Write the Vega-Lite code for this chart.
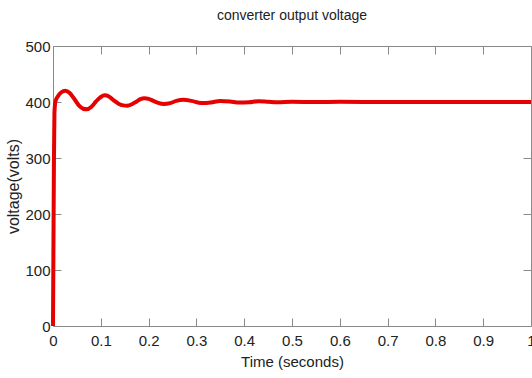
{
  "$schema": "https://vega.github.io/schema/vega-lite/v6.json",
  "width": 478,
  "height": 280,
  "autosize": {"type": "none"},
  "padding": {"left": 53, "top": 46, "right": 1, "bottom": 52},
  "background": "white",
  "config": {
    "view": {"stroke": null},
    "font": "Liberation Sans",
    "axis": {
      "grid": false,
      "domainColor": "#8a8a8a",
      "tickColor": "#8a8a8a",
      "labelColor": "#222222",
      "titleColor": "#222222",
      "labelFont": "Liberation Sans",
      "titleFont": "Liberation Sans",
      "titleFontWeight": "normal",
      "labelFontSize": 15,
      "titleFontSize": 15
    }
  },
  "title": {
    "text": "converter output voltage",
    "font": "Liberation Sans",
    "fontSize": 14,
    "fontWeight": "normal",
    "color": "#222222",
    "offset": 16
  },
  "data": {
    "values": [
      {"t": 0, "v": 0},
      {"t": 0.001, "v": 150},
      {"t": 0.002, "v": 300},
      {"t": 0.003, "v": 380},
      {"t": 0.005, "v": 401},
      {"t": 0.01, "v": 410},
      {"t": 0.017, "v": 417},
      {"t": 0.026, "v": 420},
      {"t": 0.035, "v": 416},
      {"t": 0.045, "v": 405},
      {"t": 0.055, "v": 393},
      {"t": 0.063, "v": 388},
      {"t": 0.071, "v": 387},
      {"t": 0.08, "v": 391},
      {"t": 0.09, "v": 401},
      {"t": 0.1, "v": 409},
      {"t": 0.108, "v": 412},
      {"t": 0.117, "v": 410},
      {"t": 0.127, "v": 403},
      {"t": 0.137, "v": 397},
      {"t": 0.147, "v": 394},
      {"t": 0.155, "v": 393.5},
      {"t": 0.165, "v": 396},
      {"t": 0.175, "v": 401},
      {"t": 0.183, "v": 405},
      {"t": 0.191, "v": 406.5},
      {"t": 0.2, "v": 405.5},
      {"t": 0.21, "v": 402},
      {"t": 0.22, "v": 398.5},
      {"t": 0.232, "v": 396.5},
      {"t": 0.245, "v": 398},
      {"t": 0.258, "v": 402},
      {"t": 0.273, "v": 404},
      {"t": 0.29, "v": 402},
      {"t": 0.31, "v": 398},
      {"t": 0.33, "v": 399},
      {"t": 0.35, "v": 402},
      {"t": 0.37, "v": 401},
      {"t": 0.39, "v": 399},
      {"t": 0.41, "v": 399.5},
      {"t": 0.43, "v": 401.5},
      {"t": 0.45, "v": 400.5},
      {"t": 0.47, "v": 399.5},
      {"t": 0.5, "v": 400.5},
      {"t": 0.55, "v": 399.8},
      {"t": 0.6, "v": 400.3},
      {"t": 0.7, "v": 400},
      {"t": 0.8, "v": 400},
      {"t": 0.9, "v": 400},
      {"t": 1.0, "v": 400}
    ]
  },
  "layer": [
    {
      "mark": {"type": "line", "color": "#e60000", "strokeWidth": 4, "interpolate": "monotone"},
      "encoding": {
        "x": {
          "field": "t", "type": "quantitative",
          "scale": {"domain": [0, 1], "nice": false},
          "axis": {"title": "Time (seconds)", "orient": "bottom", "values": [0, 0.1, 0.2, 0.3, 0.4, 0.5, 0.6, 0.7, 0.8, 0.9, 1], "format": "~g", "tickSize": -8, "labelPadding": 15, "titlePadding": 6, "labelFlush": false}
        },
        "y": {
          "field": "v", "type": "quantitative",
          "scale": {"domain": [0, 500], "nice": false},
          "axis": {"title": "voltage(volts)", "orient": "left", "values": [0, 100, 200, 300, 400, 500], "tickSize": -8, "labelPadding": 11, "titlePadding": 3, "titleFontSize": 16, "labelFlush": false}
        }
      }
    },
    {
      "mark": {"type": "line", "opacity": 0},
      "encoding": {
        "x": {
          "field": "t", "type": "quantitative",
          "scale": {"domain": [0, 1], "nice": false},
          "axis": {"title": null, "orient": "top", "labels": false, "values": [0, 0.1, 0.2, 0.3, 0.4, 0.5, 0.6, 0.7, 0.8, 0.9, 1], "tickSize": -8}
        },
        "y": {
          "field": "v", "type": "quantitative",
          "scale": {"domain": [0, 500], "nice": false},
          "axis": {"title": null, "orient": "right", "labels": false, "values": [0, 100, 200, 300, 400, 500], "tickSize": -8}
        }
      }
    }
  ],
  "resolve": {"axis": {"x": "independent", "y": "independent"}}
}
